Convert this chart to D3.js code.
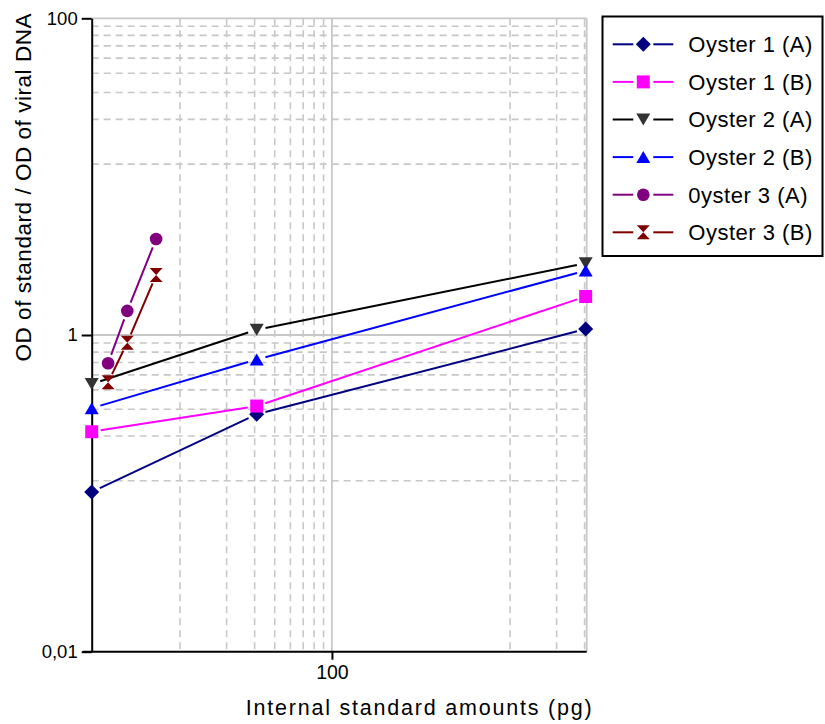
<!DOCTYPE html>
<html>
<head>
<meta charset="utf-8">
<script src="https://cdn.jsdelivr.net/npm/d3@7/dist/d3.min.js"></script>
<style>
  html, body { margin: 0; padding: 0; background: #fff; }
  svg { display: block; }
  text { font-family: "Liberation Sans", Arial, sans-serif; fill: #000; }
</style>
</head>
<body>
<svg id="chart" width="825" height="724"></svg>
<script>
// ---------------- DATA ----------------
const seriesNames = ["Oyster 1 (A)", "Oyster 1 (B)", "Oyster 2 (A)", "Oyster 2 (B)", "0yster 3 (A)", "Oyster 3 (B)"];
const xOyster12 = [3.5, 35, 3450];
const xOyster3 = [4.4, 5.75, 8.6];
const oyster1A = [0.102, 0.316, 1.09];
const oyster1B = [0.245, 0.356, 1.75];
const oyster2A = [0.49, 1.08, 2.84];
const oyster2B = [0.345, 0.70, 2.55];
const oyster3A = [0.663, 1.42, 4.04];
const oyster3B = [0.503, 0.894, 2.39];

const xDomain = [3.5, 3500];
const yDomain = [0.01, 100];
const xTickValues = [100];
const xTickLabels = ["100"];
const yTickValues = [0.01, 1, 100];
const yTickLabels = ["0,01", "1", "100"];
const xMajorGrid = [100];
const xMinorGrid = [12, 23, 34, 45, 56, 67, 78, 89, 1200, 2300, 3400];
const yMajorGrid = [1, 100];
const yMinorGrid = [0.12, 0.23, 0.34, 0.45, 0.56, 0.67, 0.78, 0.89, 12, 23, 34, 45, 56, 67, 78, 89];
const xTitle = "Internal standard amounts (pg)";
const yTitle = "OD of standard / OD of viral DNA";

// ---------------- STYLE ----------------
const series = [
  { name: seriesNames[0], x: xOyster12, y: oyster1A, line: "#000080", fill: "#000080", shape: "diamond" },
  { name: seriesNames[1], x: xOyster12, y: oyster1B, line: "#ff00ff", fill: "#ff00ff", shape: "square" },
  { name: seriesNames[2], x: xOyster12, y: oyster2A, line: "#000000", fill: "#333333", shape: "down" },
  { name: seriesNames[3], x: xOyster12, y: oyster2B, line: "#0000ff", fill: "#0000ff", shape: "up" },
  { name: seriesNames[4], x: xOyster3,  y: oyster3A, line: "#800080", fill: "#800080", shape: "circle" },
  { name: seriesNames[5], x: xOyster3,  y: oyster3B, line: "#800000", fill: "#800000", shape: "hourglass" }
];

const shapes = {
  diamond: "M0,-7.5L7.5,0L0,7.5L-7.5,0Z",
  square: "M-6.5,-6.5h13v13h-13Z",
  down: "M-7,-6L7,-6L0,6Z",
  up: "M0,-6L7,6L-7,6Z",
  circle: "M6.3,0A6.3,6.3 0 1,1 -6.3,0A6.3,6.3 0 1,1 6.3,0Z",
  hourglass: "M-6.5,-7L6.5,-7L0,0L6.5,7L-6.5,7L0,0Z"
};

const L = 91.7, R = 586.7, T = 18.3, B = 651.7;
const svg = d3.select("#chart");

const x = d3.scaleLog().domain(xDomain).range([L, R]);
const y = d3.scaleLog().domain(yDomain).range([B, T]);

// ---------------- GRID ----------------
const grid = svg.append("g");
grid.selectAll(".xmin").data(xMinorGrid).enter().append("line")
  .attr("x1", d => x(d)).attr("x2", d => x(d)).attr("y1", T).attr("y2", B)
  .attr("stroke", "#c8c8c8").attr("stroke-width", 1.6).attr("stroke-dasharray", "7,5");
grid.selectAll(".ymin").data(yMinorGrid).enter().append("line")
  .attr("x1", L).attr("x2", R).attr("y1", d => y(d)).attr("y2", d => y(d))
  .attr("stroke", "#c8c8c8").attr("stroke-width", 1.6).attr("stroke-dasharray", "7,5");
grid.selectAll(".xmaj").data(xMajorGrid).enter().append("line")
  .attr("x1", d => x(d)).attr("x2", d => x(d)).attr("y1", T).attr("y2", B)
  .attr("stroke", "#c8c8c8").attr("stroke-width", 1.8);
grid.selectAll(".ymaj").data(yMajorGrid).enter().append("line")
  .attr("x1", L).attr("x2", R).attr("y1", d => y(d)).attr("y2", d => y(d))
  .attr("stroke", "#c8c8c8").attr("stroke-width", 1.8);
// right frame
grid.append("line").attr("x1", R).attr("x2", R).attr("y1", T).attr("y2", B)
  .attr("stroke", "#c8c8c8").attr("stroke-width", 1.8);

// ---------------- AXES ----------------
const xAxis = d3.axisBottom(x).tickValues(xTickValues)
  .tickFormat((d, i) => xTickLabels[i]).tickSize(8).tickSizeOuter(0).tickPadding(5);
const gx = svg.append("g").attr("transform", `translate(0,${B})`).call(xAxis);
gx.select(".domain").attr("stroke", "#000").attr("stroke-width", 2)
  .attr("d", `M${L - 9},0H${R}`);
gx.selectAll(".tick line").attr("stroke", "#000").attr("stroke-width", 2);
gx.selectAll(".tick text").attr("font-size", 19.5).attr("font-family", "Liberation Sans, Arial, sans-serif").attr("fill", "#000");

const yAxis = d3.axisLeft(y).tickValues(yTickValues)
  .tickFormat((d, i) => yTickLabels[i]).tickSize(10).tickSizeOuter(0).tickPadding(4);
const gy = svg.append("g").attr("transform", `translate(${L},0)`).call(yAxis);
gy.select(".domain").attr("stroke", "#000").attr("stroke-width", 2);
gy.selectAll(".tick line").attr("stroke", "#000").attr("stroke-width", 2);
gy.selectAll(".tick text").attr("font-size", 18.5).attr("font-family", "Liberation Sans, Arial, sans-serif").attr("fill", "#000");

// ---------------- SERIES ----------------
const gap = 9;
series.forEach(s => {
  const pts = s.x.map((xv, i) => [x(xv), y(s.y[i])]);
  const g = svg.append("g");
  for (let i = 0; i < pts.length - 1; i++) {
    const [x1, y1] = pts[i], [x2, y2] = pts[i + 1];
    const len = Math.hypot(x2 - x1, y2 - y1);
    if (len <= 2 * gap) continue;
    const ux = (x2 - x1) / len, uy = (y2 - y1) / len;
    g.append("line")
      .attr("x1", x1 + ux * gap).attr("y1", y1 + uy * gap)
      .attr("x2", x2 - ux * gap).attr("y2", y2 - uy * gap)
      .attr("stroke", s.line).attr("stroke-width", 2);
  }
  g.selectAll("path").data(pts).enter().append("path")
    .attr("d", shapes[s.shape])
    .attr("transform", d => `translate(${d[0]},${d[1]})`)
    .attr("fill", s.fill);
});

// ---------------- TITLES ----------------
svg.append("text").attr("x", 418.7).attr("y", 715)
  .attr("text-anchor", "middle").attr("font-size", 21.5)
  .attr("textLength", 346).attr("lengthAdjust", "spacing")
  .text(xTitle);
svg.append("text").attr("transform", "translate(30.5,187.5) rotate(-90)")
  .attr("text-anchor", "middle").attr("font-size", 22.5)
  .attr("textLength", 348).attr("lengthAdjust", "spacing")
  .text(yTitle);

// ---------------- LEGEND ----------------
const lg = svg.append("g");
lg.append("rect").attr("x", 602.5).attr("y", 16.5).attr("width", 220).attr("height", 239.5)
  .attr("fill", "#fff").attr("stroke", "#000").attr("stroke-width", 2);
const rowY0 = 44.3, rowStep = 37.6;
series.forEach((s, i) => {
  const cy = rowY0 + i * rowStep;
  lg.append("line").attr("x1", 612.7).attr("x2", 633.3).attr("y1", cy).attr("y2", cy)
    .attr("stroke", s.line).attr("stroke-width", 2);
  lg.append("line").attr("x1", 653.3).attr("x2", 673.3).attr("y1", cy).attr("y2", cy)
    .attr("stroke", s.line).attr("stroke-width", 2);
  lg.append("path").attr("d", shapes[s.shape])
    .attr("transform", `translate(643.3,${cy})`).attr("fill", s.fill);
  lg.append("text").attr("x", 688.3).attr("y", cy + 7.8)
    .attr("font-size", 22).attr("letter-spacing", 0.5)
    .text(s.name);
});
</script>
</body>
</html>
